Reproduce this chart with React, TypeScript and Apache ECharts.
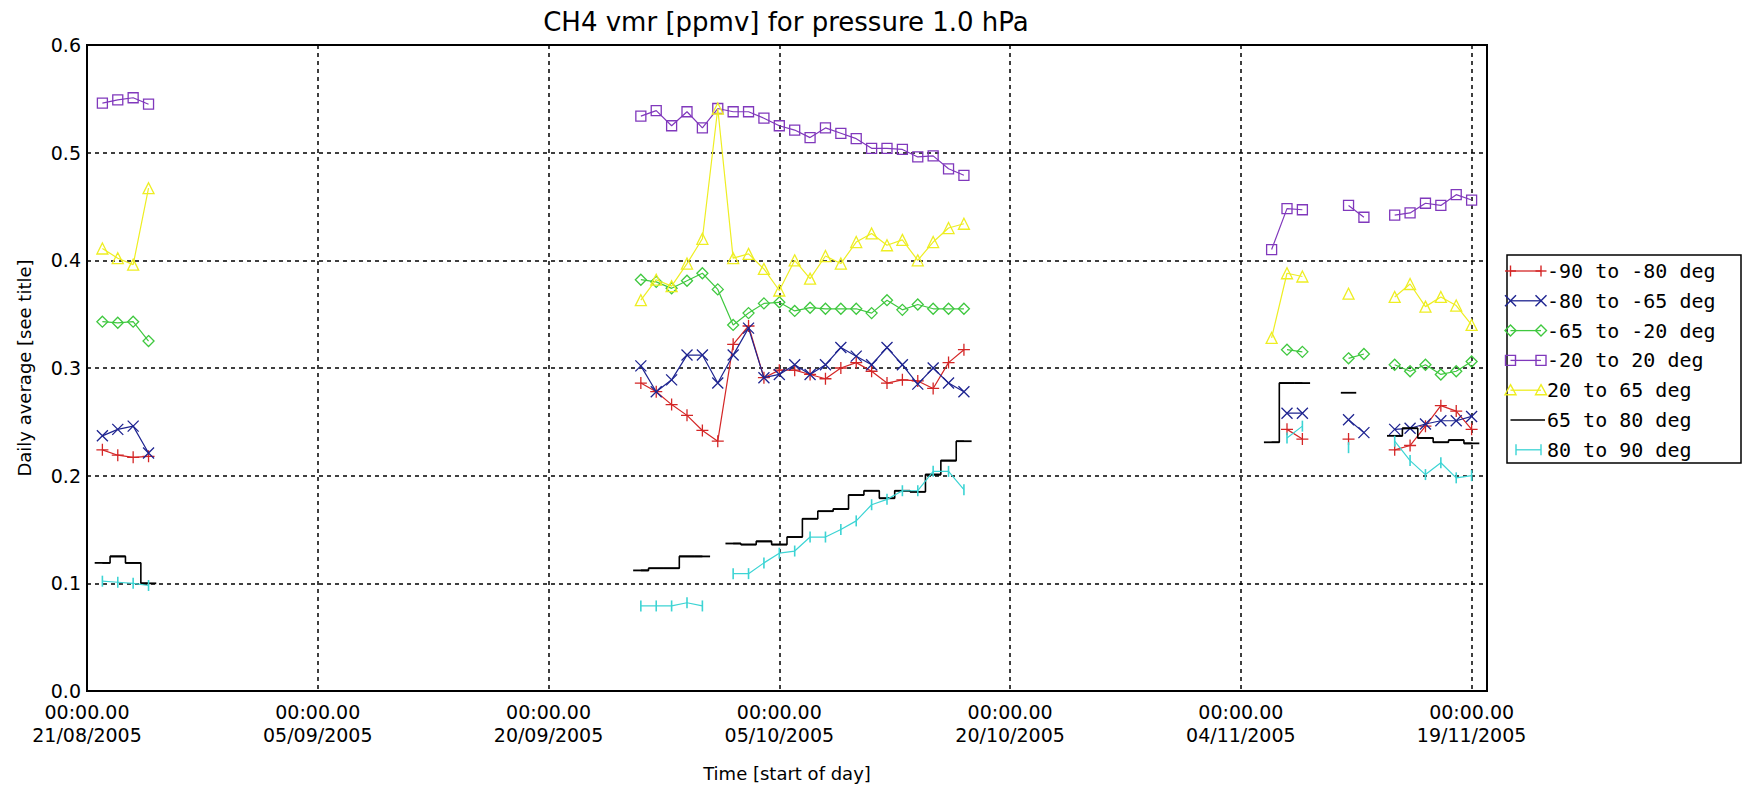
import React, { useEffect, useRef } from 'react';
import * as echarts from 'echarts';

// ---------- data ----------
const START_UTC = Date.UTC(2005, 7, 21);

const dates = [
  '2005-08-22', '2005-08-23', '2005-08-24', '2005-08-25', '2005-08-26',
  '2005-09-26', '2005-09-27', '2005-09-28', '2005-09-29', '2005-09-30', '2005-10-01', '2005-10-02',
  '2005-10-03', '2005-10-04', '2005-10-05', '2005-10-06', '2005-10-07', '2005-10-08', '2005-10-09',
  '2005-10-10', '2005-10-11', '2005-10-12', '2005-10-13', '2005-10-14', '2005-10-15', '2005-10-16',
  '2005-10-17', '2005-10-18',
  '2005-11-06', '2005-11-07', '2005-11-08', '2005-11-09', '2005-11-11', '2005-11-12', '2005-11-13',
  '2005-11-14', '2005-11-15', '2005-11-16', '2005-11-17', '2005-11-18', '2005-11-19',
];

const seriesNames = [
  '-90 to -80 deg',
  '-80 to -65 deg',
  '-65 to -20 deg',
  '-20 to 20 deg',
  '20 to 65 deg',
  '65 to 80 deg',
  '80 to 90 deg',
];

const lat90to80 = [
  0.224, 0.219, 0.217, 0.218, null,
  0.286, 0.278, 0.266, 0.256, 0.242, 0.232, 0.322, 0.339, 0.291, 0.298, 0.298, 0.294, 0.290, 0.300,
  0.305, 0.297, 0.286, 0.289, 0.288, 0.281, 0.305, 0.317, null,
  null, 0.243, 0.234, null, 0.234, null, null, 0.224, 0.228, 0.246, 0.265, 0.260, 0.243,
];
const lat80to65 = [
  0.237, 0.243, 0.246, 0.221, null,
  0.302, 0.278, 0.289, 0.312, 0.312, 0.286, 0.312, 0.337, 0.291, 0.294, 0.303, 0.294, 0.303, 0.319,
  0.311, 0.303, 0.319, 0.303, 0.285, 0.300, 0.286, 0.278, null,
  null, 0.258, 0.258, null, 0.252, 0.240, null, 0.243, 0.244, 0.248, 0.251, 0.251, 0.255,
];
const lat65to20 = [
  0.343, 0.342, 0.343, 0.325, null,
  0.382, 0.380, 0.374, 0.381, 0.388, 0.373, 0.340, 0.351, 0.360, 0.361, 0.353, 0.356, 0.355, 0.355,
  0.355, 0.351, 0.363, 0.354, 0.359, 0.355, 0.355, 0.355, null,
  null, 0.317, 0.315, null, 0.309, 0.313, null, 0.303, 0.297, 0.303, 0.294, 0.297, 0.306,
];
const lat20to20 = [
  0.546, 0.549, 0.551, 0.545, null,
  0.534, 0.539, 0.525, 0.538, 0.523, 0.541, 0.538, 0.538, 0.532, 0.525, 0.521, 0.514, 0.523, 0.518,
  0.513, 0.504, 0.504, 0.503, 0.496, 0.497, 0.485, 0.479, null,
  0.410, 0.448, 0.447, null, 0.451, 0.440, null, 0.442, 0.444, 0.453, 0.451, 0.461, 0.456,
];
const lat20to65 = [
  0.411, 0.402, 0.396, 0.467, null,
  0.363, 0.382, 0.376, 0.397, 0.420, 0.541, 0.402, 0.406, 0.392, 0.372, 0.400, 0.383, 0.404, 0.397,
  0.417, 0.425, 0.414, 0.419, 0.400, 0.417, 0.430, 0.434, null,
  0.328, 0.388, 0.385, null, 0.369, null, null, 0.366, 0.378, 0.357, 0.366, 0.358, 0.340,
];
const lat65to80 = [
  0.119, 0.125, 0.119, 0.100, null,
  0.112, 0.114, 0.114, 0.125, 0.125, null, 0.137, 0.136, 0.139, 0.136, 0.143, 0.160, 0.167, 0.169,
  0.182, 0.186, 0.179, 0.186, 0.185, 0.201, 0.214, 0.232, null,
  0.231, 0.286, 0.286, null, 0.277, null, null, 0.237, 0.244, 0.235, 0.231, 0.233, 0.230,
];
const lat80to90 = [
  0.102, 0.101, 0.100, 0.098, null,
  0.079, 0.079, 0.079, 0.082, 0.079, null, 0.109, 0.109, 0.119, 0.128, 0.130, 0.143, 0.143, 0.150,
  0.158, 0.173, 0.178, 0.186, 0.186, 0.204, 0.204, 0.187, null,
  null, 0.235, 0.246, null, 0.226, null, null, 0.232, 0.214, 0.201, 0.212, 0.198, 0.200,
];

const tickTimeLabel = '00:00.00';
const tickDateLabels = ['21/08/2005', '05/09/2005', '20/09/2005', '05/10/2005', '20/10/2005', '04/11/2005', '19/11/2005'];
const yTickLabels = ['0.0', '0.1', '0.2', '0.3', '0.4', '0.5', '0.6'];

// ---------- styling ----------
const seriesValues = [lat90to80, lat80to65, lat65to20, lat20to20, lat20to65, lat65to80, lat80to90];
const colors = ['#d42626', '#1e2490', '#3fc83f', '#8038bc', '#eeee22', '#000000', '#3cd4d4'];
const kinds = ['plus', 'cross', 'diamond', 'square', 'triangle', 'step', 'bar'];

const dayOf = (s: string) => {
  const [y, m, d] = s.split('-').map(Number);
  return (Date.UTC(y, m - 1, d) - START_UTC) / 86400000;
};

const PLOT = { left: 87, top: 45, width: 1400, height: 649 };
const FONT = 'DejaVu Sans';

function symbolFor(kind: string, color: string) {
  const hollow = { color: 'rgba(0,0,0,0)', borderColor: color, borderWidth: 1.3 };
  switch (kind) {
    case 'plus':
      return { symbol: 'path://M5,0V10M0,5H10', symbolSize: 12, itemStyle: hollow };
    case 'cross':
      return { symbol: 'path://M0,0L10,10M10,0L0,10', symbolSize: 11, itemStyle: hollow };
    case 'diamond':
      return { symbol: 'path://M5,0L10,5L5,10L0,5Z', symbolSize: 11, itemStyle: hollow };
    case 'square':
      return { symbol: 'rect', symbolSize: 10, itemStyle: hollow };
    case 'triangle':
      return { symbol: 'path://M5,0L10,9L0,9Z', symbolSize: 11, itemStyle: hollow };
    case 'step':
      return { symbol: 'rect', symbolSize: [15.4, 1.8], itemStyle: { color, borderWidth: 0 } };
    default:
      return { symbol: 'rect', symbolSize: [1.6, 11], itemStyle: { color, borderWidth: 0 } };
  }
}

function legendMarker(kind: string, cx: number, cy: number, color: string): any[] {
  const s = 5.5;
  const st = { stroke: color, lineWidth: 1.4, fill: 'none' };
  switch (kind) {
    case 'plus':
      return [
        { type: 'line', silent: true, shape: { x1: cx - s, y1: cy, x2: cx + s, y2: cy }, style: st },
        { type: 'line', silent: true, shape: { x1: cx, y1: cy - s, x2: cx, y2: cy + s }, style: st },
      ];
    case 'cross':
      return [
        { type: 'line', silent: true, shape: { x1: cx - s, y1: cy - s, x2: cx + s, y2: cy + s }, style: st },
        { type: 'line', silent: true, shape: { x1: cx - s, y1: cy + s, x2: cx + s, y2: cy - s }, style: st },
      ];
    case 'diamond':
      return [{ type: 'polygon', silent: true, shape: { points: [[cx, cy - s], [cx + s, cy], [cx, cy + s], [cx - s, cy]] }, style: st }];
    case 'square':
      return [{ type: 'rect', silent: true, shape: { x: cx - 5, y: cy - 5, width: 10, height: 10 }, style: st }];
    case 'triangle':
      return [{ type: 'polygon', silent: true, shape: { points: [[cx, cy - s], [cx + s, cy + 4.5], [cx - s, cy + 4.5]] }, style: st }];
    case 'bar':
      return [{ type: 'line', silent: true, shape: { x1: cx, y1: cy - s, x2: cx, y2: cy + s }, style: st }];
    default:
      return [];
  }
}

// split a series into contiguous runs (nulls break the line)
function runsOf(xs: number[], vals: (number | null)[]) {
  const runs: [number, number][][] = [];
  let cur: [number, number][] = [];
  vals.forEach((v, j) => {
    if (v == null) {
      if (cur.length) runs.push(cur);
      cur = [];
    } else {
      cur.push([xs[j], v]);
    }
  });
  if (cur.length) runs.push(cur);
  return runs;
}

export default function App() {
  const ref = useRef<HTMLDivElement>(null);

  useEffect(() => {
    if (!ref.current) return;
    const chart = echarts.init(ref.current, undefined, { renderer: 'svg' });
    const xs = dates.map(dayOf);

    const series: any[] = [];
    seriesNames.forEach((name, i) => {
      const sym = symbolFor(kinds[i], colors[i]);
      const base = {
        name,
        type: 'line',
        connectNulls: false,
        showSymbol: true,
        symbol: sym.symbol,
        symbolSize: sym.symbolSize,
        itemStyle: sym.itemStyle,
        lineStyle: { color: colors[i], width: kinds[i] === 'step' ? 1.6 : 1.2 },
        emphasis: { disabled: true },
        z: 2 + i,
      };
      if (kinds[i] === 'step') {
        runsOf(xs, seriesValues[i]).forEach((run) => {
          series.push({ ...base, step: 'middle', data: run });
        });
      } else {
        series.push({ ...base, data: xs.map((x, j) => [x, seriesValues[i][j]]) });
      }
    });

    // legend built with graphic elements (IDL style: marker-line-marker)
    const legendEls: any[] = [
      {
        type: 'rect', silent: true,
        shape: { x: 1507, y: 255, width: 234, height: 208 },
        style: { fill: '#fff', stroke: '#000', lineWidth: 1.5 },
      },
    ];
    seriesNames.forEach((name, i) => {
      const cy = 271 + i * 29.8;
      const x1 = kinds[i] === 'bar' ? 1516 : 1510.5;
      legendEls.push({
        type: 'line', silent: true,
        shape: { x1, y1: cy, x2: kinds[i] === 'step' ? 1545 : 1541, y2: cy },
        style: { stroke: colors[i], lineWidth: 1.3 },
      });
      legendEls.push(...legendMarker(kinds[i], x1, cy, colors[i]));
      legendEls.push(...legendMarker(kinds[i], 1541, cy, colors[i]));
      legendEls.push({
        type: 'text', silent: true,
        x: 1547, y: cy,
        style: {
          text: name, fill: '#000',
          font: '20px "DejaVu Sans Mono", monospace',
          verticalAlign: 'middle', textVerticalAlign: 'middle',
        },
      });
    });

    chart.setOption({
      animation: false,
      backgroundColor: '#fff',
      title: {
        text: 'CH4 vmr [ppmv] for pressure 1.0 hPa',
        left: PLOT.left + PLOT.width / 2 - 6,
        textAlign: 'center',
        top: 4,
        textStyle: { fontFamily: FONT, fontSize: 26, fontWeight: 'normal', color: '#000' },
      },
      grid: {
        left: PLOT.left, top: PLOT.top, width: PLOT.width, height: PLOT.height,
        show: true, borderColor: '#000', borderWidth: 2, backgroundColor: 'transparent',
      },
      xAxis: {
        type: 'value',
        min: 0,
        max: 91,
        interval: 15,
        name: 'Time [start of day]',
        nameLocation: 'middle',
        nameGap: 73,
        nameTextStyle: { fontFamily: FONT, fontSize: 18, color: '#000' },
        axisLine: { show: false },
        axisTick: { show: false },
        axisLabel: {
          margin: 9,
          fontFamily: FONT,
          fontSize: 19,
          lineHeight: 23,
          color: '#000',
          showMaxLabel: false,
          formatter: (v: number) => {
            const k = Math.round(v / 15);
            if (Math.abs(v - k * 15) > 1e-6 || !tickDateLabels[k]) return '';
            return tickTimeLabel + '\n' + tickDateLabels[k];
          },
        },
        splitLine: { show: true, lineStyle: { color: '#000', type: [4, 4], width: 1.5 } },
      },
      yAxis: {
        type: 'value',
        min: 0,
        max: 0.6,
        interval: 0.1,
        name: 'Daily average [see title]',
        nameLocation: 'middle',
        nameGap: 54,
        nameTextStyle: { fontFamily: FONT, fontSize: 18, color: '#000' },
        axisLine: { show: false },
        axisTick: { show: false },
        axisLabel: {
          margin: 6,
          fontFamily: FONT,
          fontSize: 19,
          color: '#000',
          formatter: (v: number) => yTickLabels[Math.round(v * 10)] ?? '',
        },
        splitLine: { show: true, lineStyle: { color: '#000', type: [4, 4], width: 1.5 } },
      },
      graphic: legendEls,
      series,
    });

    return () => chart.dispose();
  }, []);

  return (
    <div
      ref={ref}
      style={{ position: 'fixed', left: 0, top: 0, width: 1746, height: 787, background: '#fff' }}
    />
  );
}
